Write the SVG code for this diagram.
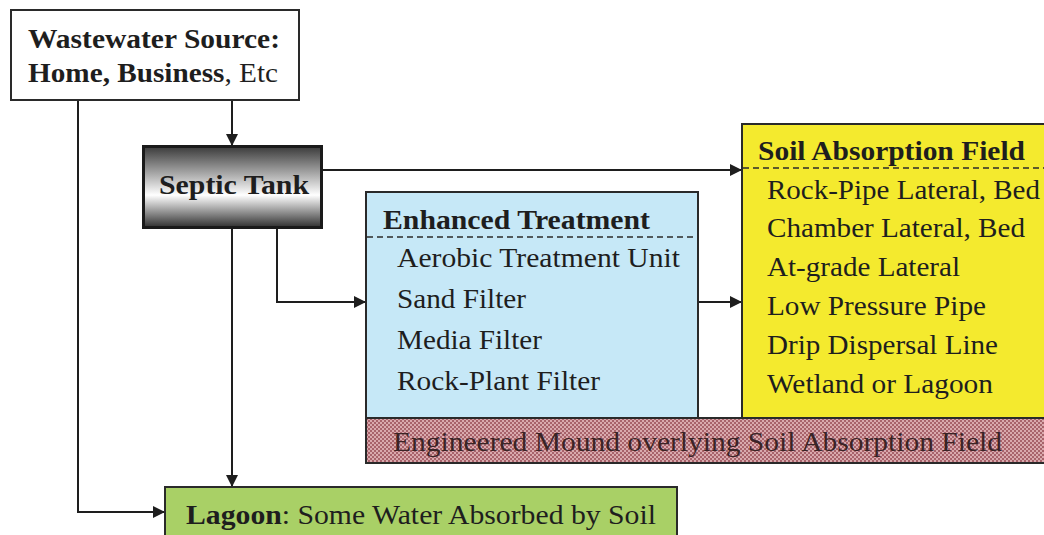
<svg xmlns="http://www.w3.org/2000/svg" width="1044" height="535" viewBox="0 0 1044 535">
<style>
text{font-family:"Liberation Serif","Times New Roman",serif;fill:#1e1e1e}
.b{font-weight:bold}
.t{font-size:27px}
.i{font-size:27px}
.box{stroke:#2a2a2a;stroke-width:2}
.conn{fill:none;stroke:#1e1e1e;stroke-width:2}
.dash{stroke:#2a2a2a;stroke-width:1.5;stroke-dasharray:6 4}
</style>
<defs>
<marker id="ah" viewBox="0 0 12 12" refX="12" refY="6" markerWidth="12" markerHeight="12" markerUnits="userSpaceOnUse" orient="auto">
<path d="M0,0 L12,6 L0,12 Z" fill="#1e1e1e"/>
</marker>
<linearGradient id="g" x1="0" y1="0" x2="0" y2="1">
<stop offset="0" stop-color="#3a3a3a"/>
<stop offset="0.6" stop-color="#ffffff"/>
<stop offset="1" stop-color="#2e2e2e"/>
</linearGradient>
<pattern id="chk" width="4" height="4" patternUnits="userSpaceOnUse">
<rect width="4" height="4" fill="#d9a9ad"/>
<rect width="2" height="2" fill="#a8636b"/>
<rect x="2" y="2" width="2" height="2" fill="#a8636b"/>
</pattern>
</defs>

<g id="connectors">
<path class="conn" d="M232,100 V146" marker-end="url(#ah)"/>
<path class="conn" d="M78,100 V512 H165" marker-end="url(#ah)"/>
<path class="conn" d="M232,228 V487" marker-end="url(#ah)"/>
<path class="conn" d="M277,228 V302 H366" marker-end="url(#ah)"/>
<path class="conn" d="M322,170 H742" marker-end="url(#ah)"/>
<path class="conn" d="M698,302 H742" marker-end="url(#ah)"/>
</g>

<g id="source">
<rect class="box" x="11" y="10" width="288" height="90" fill="#ffffff"/>
<text class="t b" x="28" y="48" textLength="252" lengthAdjust="spacingAndGlyphs">Wastewater Source:</text>
<text class="t" x="28" y="82" textLength="250" lengthAdjust="spacingAndGlyphs"><tspan class="b">Home, Business</tspan>, Etc</text>
</g>

<g id="septic">
<rect x="143.5" y="146.5" width="178" height="81" fill="url(#g)" stroke="#1a1a1a" stroke-width="3"/>
<text class="t b" x="159" y="194" textLength="150" lengthAdjust="spacingAndGlyphs">Septic Tank</text>
</g>

<g id="enhanced">
<rect class="box" x="366" y="192" width="332" height="226" fill="#c6e8f7"/>
<text class="t b" x="383" y="229" textLength="267" lengthAdjust="spacingAndGlyphs">Enhanced Treatment</text>
<line class="dash" x1="367" y1="237" x2="697" y2="237"/>
<text class="i" x="397" y="267" textLength="283" lengthAdjust="spacingAndGlyphs">Aerobic Treatment Unit</text>
<text class="i" x="397" y="308" textLength="129" lengthAdjust="spacingAndGlyphs">Sand Filter</text>
<text class="i" x="397" y="349" textLength="145" lengthAdjust="spacingAndGlyphs">Media Filter</text>
<text class="i" x="397" y="390" textLength="203" lengthAdjust="spacingAndGlyphs">Rock-Plant Filter</text>
</g>

<g id="soil">
<rect class="box" x="742" y="124" width="310" height="294" fill="#f4ea2e"/>
<text class="t b" x="758" y="160" textLength="267" lengthAdjust="spacingAndGlyphs">Soil Absorption Field</text>
<line class="dash" x1="743" y1="168" x2="1044" y2="168"/>
<text class="i" x="767" y="199" textLength="273" lengthAdjust="spacingAndGlyphs">Rock-Pipe Lateral, Bed</text>
<text class="i" x="767" y="237" textLength="258" lengthAdjust="spacingAndGlyphs">Chamber Lateral, Bed</text>
<text class="i" x="767" y="276" textLength="193" lengthAdjust="spacingAndGlyphs">At-grade Lateral</text>
<text class="i" x="767" y="315" textLength="219" lengthAdjust="spacingAndGlyphs">Low Pressure Pipe</text>
<text class="i" x="767" y="354" textLength="231" lengthAdjust="spacingAndGlyphs">Drip Dispersal Line</text>
<text class="i" x="767" y="393" textLength="226" lengthAdjust="spacingAndGlyphs">Wetland or Lagoon</text>
</g>

<g id="mound">
<rect class="box" x="366" y="418" width="690" height="45" fill="url(#chk)"/>
<text class="i" x="393" y="451" textLength="609" lengthAdjust="spacingAndGlyphs" style="fill:#3a2426">Engineered Mound overlying Soil Absorption Field</text>
</g>

<g id="lagoon">
<rect class="box" x="165" y="487" width="512" height="60" fill="#a9d066"/>
<text class="t" x="186" y="524" textLength="470" lengthAdjust="spacingAndGlyphs"><tspan class="b">Lagoon</tspan>: Some Water Absorbed by Soil</text>
</g>
</svg>
